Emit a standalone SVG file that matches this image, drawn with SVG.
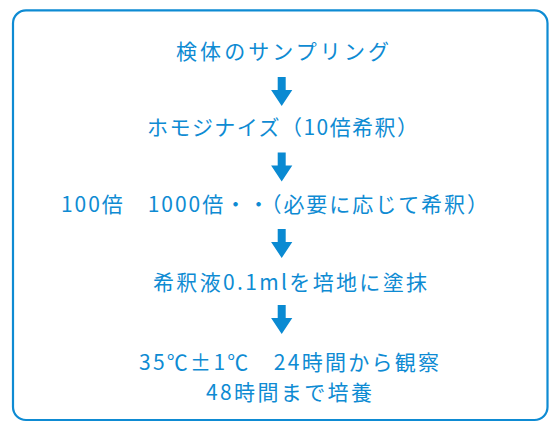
<svg xmlns="http://www.w3.org/2000/svg" xmlns:xlink="http://www.w3.org/1999/xlink" width="549" height="423" viewBox="0 0 549 423">
<style>
  .frame{fill:#ffffff;stroke:#0e8bd3;stroke-width:2.2}
  .t{font-family:"Noto Sans CJK JP","Noto Sans CJK SC",sans-serif;font-size:21px;font-weight:400;fill:#0e8bd3}
  .arr{fill:#0a8ad2}
</style>
<defs>
  <polygon id="arrow" points="-4,0 4,0 4,13 10.6,13 0,29 -10.6,13 -4,13"/>
</defs>
<rect width="549" height="423" fill="#ffffff"/>
<rect class="frame" x="13" y="10.3" width="534.5" height="409.7" rx="13" ry="13"/>
<g id="n1"><text class="t" x="176" y="59" textLength="213" lengthAdjust="spacing">検体のサンプリング</text></g>
<g id="n2"><text class="t" x="147" y="134.5" textLength="271" lengthAdjust="spacing">ホモジナイズ（10倍希釈）</text></g>
<g id="n3"><text class="t" x="61" y="212" textLength="427" lengthAdjust="spacing">100倍　1000倍・・（必要に応じて希釈）</text></g>
<g id="n4"><text class="t" x="153" y="290" textLength="274" lengthAdjust="spacing">希釈液0.1mlを培地に塗抹</text></g>
<g id="n5">
  <text class="t" x="139" y="369.5" textLength="300" lengthAdjust="spacing">35℃±1℃　24時間から観察</text>
  <text class="t" x="206" y="399.5" textLength="166" lengthAdjust="spacing">48時間まで培養</text>
</g>
<g id="connectors" class="arr">
  <use xlink:href="#arrow" x="281.7" y="77"/>
  <use xlink:href="#arrow" x="281.7" y="152.5"/>
  <use xlink:href="#arrow" x="281.7" y="229"/>
  <use xlink:href="#arrow" x="281.7" y="305"/>
</g>
</svg>
